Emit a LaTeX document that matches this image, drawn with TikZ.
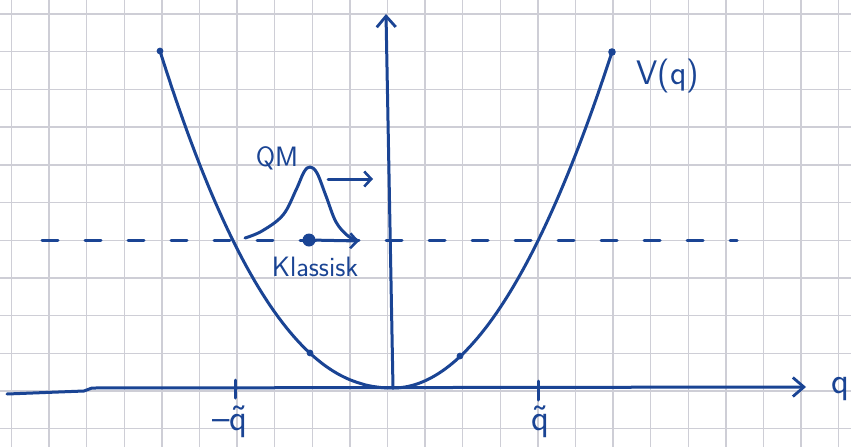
\documentclass[tikz,border=0pt]{standalone}
\usetikzlibrary{arrows.meta}
\definecolor{ink}{RGB}{26,68,148}
\definecolor{gridc}{RGB}{206,206,214}
\begin{document}
\begin{tikzpicture}[x=1pt,y=-1pt,
  inkline/.style={draw=ink,line width=3pt,line cap=round,line join=round},
  smalltip/.style={-{Straight Barb[length=7pt,width=15pt,line width=2.6pt]}},
  bigtip/.style={-{Straight Barb[length=11pt,width=19pt,line width=2.8pt]}},
  lbl/.style={text=ink,inner sep=0pt},
  qlbl/.style={lbl,font=\sffamily\fontsize{37}{37}\selectfont},
  gridline/.style={draw=gridc,line width=1.4pt}]
\useasboundingbox (0,0) rectangle (851,447);
\fill[white] (0,0) rectangle (851,447);
% grid paper
\foreach \k in {0,...,22} \draw[gridline] ({11.5+37.6*\k},0) -- ({11.5+37.6*\k},447);
\foreach \k in {0,...,11} \draw[gridline] (0,{14+37.7*\k}) -- (851,{14+37.7*\k});
% coordinates
\coordinate (O) at (393,388);
\coordinate (xs) at (7,394);
\coordinate (xk1) at (84,391);
\coordinate (xk2) at (92,388);
\coordinate (xe) at (806,387);
\coordinate (ye) at (386,14);
\coordinate (dl) at (42,240);
\coordinate (dr) at (737,240);
% dashed energy line
\draw[inkline,dash pattern=on 16pt off 27pt] (dl) -- (dr);
% axes
\draw[inkline,bigtip] (xs) -- (xk1) -- (xk2) -- (xe);
\draw[inkline,bigtip] (O) -- (ye);
% potential
\draw[inkline] plot[domain=-233:-0.5,samples=60] ({393+\x},{388-337*pow(-\x/233,2.2)}) -- (O);
\draw[inkline] plot[domain=0:219,samples=60] ({393+\x},{388-336*(\x/219)*(\x/219)});
\fill[ink] (160,51) circle (3.4);
\fill[ink] (612,52) circle (3.8);
\fill[ink] (310,353) circle (3.4);
\fill[ink] (460,356) circle (3.4);
% ticks
\coordinate (t1a) at (235,380); \coordinate (t1b) at (235,398);
\coordinate (t2a) at (538,381); \coordinate (t2b) at (538,400);
\draw[inkline] (t1a) -- (t1b);
\draw[inkline] (t2a) -- (t2b);
\node[qlbl] (mq) at (230,422) {\textendash\~{q}};
\node[qlbl] (pq) at (540,422) {\~{q}};
\node[qlbl] (qax) at (840,389) {q};
\node[lbl,font=\sffamily\fontsize{34}{34}\selectfont] (V) at (668,76) {V(q)};
% wave packet
\draw[inkline] plot[smooth,tension=0.6] coordinates {(245,238) (262,231) (283,215) (296,190) (304,172) (310,167) (317,173) (326,196) (336,222) (348,236) (357,240)};
\node[lbl,font=\sffamily\fontsize{28}{28}\selectfont] (QM) at (277,158) {QM};
\coordinate (qa) at (328,179);
\coordinate (qb) at (373,179);
\draw[inkline,smalltip] (qa) -- (qb);
% classical particle
\node[circle,fill=ink,inner sep=0pt,minimum size=13pt] (cl) at (309,240) {};
\coordinate (clend) at (359,241);
\draw[inkline,smalltip] (cl) -- (clend);
\node[lbl,font=\sffamily\fontsize{28}{28}\selectfont] (kl) at (315,267) {Klassisk};
\end{tikzpicture}
\end{document}
